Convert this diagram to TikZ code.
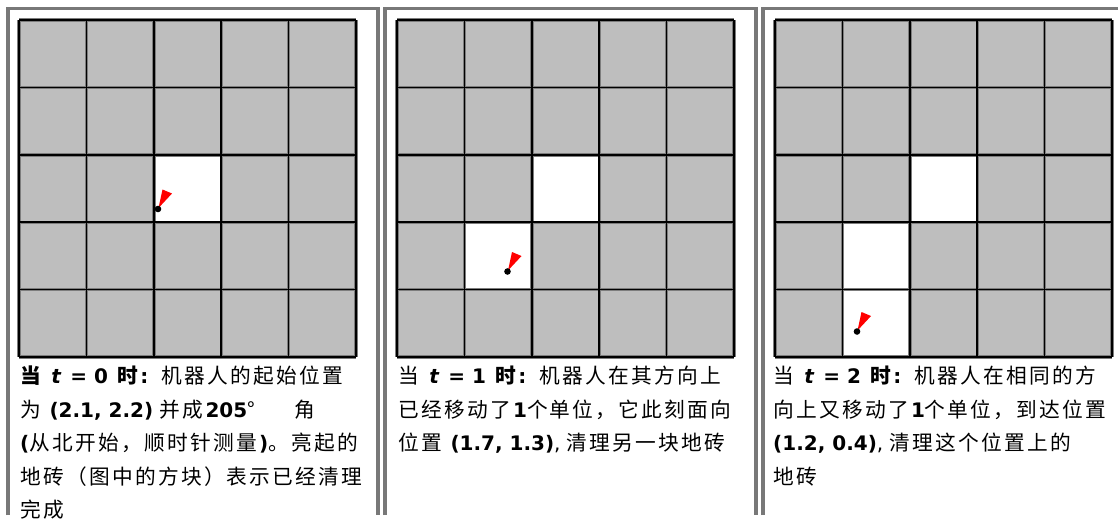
\documentclass[tikz,border=0pt]{standalone}
\usepackage{fontspec}
\setmainfont{DejaVu Sans}
\newfontfamily\cjk{Noto Sans CJK SC}[Scale=1.035,LetterSpace=11]
\newcommand{\zh}[1]{{\cjk #1}}
\newcommand{\zhb}[1]{{\cjk\bfseries #1}}
\definecolor{tile}{RGB}{190,190,190}
\definecolor{framec}{RGB}{120,120,120}
\definecolor{halo}{RGB}{125,125,125}
\definecolor{flagred}{RGB}{255,0,0}
\tikzset{
  frameline/.style={draw=framec, line width=3.4pt},
  txt/.style={anchor=base west, inner sep=0pt, font=\fontsize{20}{22}\selectfont},
  halol/.style={draw=halo, line width=3.4pt},
  gridl/.style={draw=black, line width=1.5pt},
}
\newcommand{\gridpanel}[2]{%
  \foreach \c in {0,...,4}{\foreach \r in {0,...,4}{
    \fill[tile] (#1+\c*67.4, 20+\r*67.4) rectangle ++(67.4,67.4);}}
  \foreach \c/\r in {#2}{\fill[white] (#1+\c*67.4, 20+\r*67.4) rectangle ++(67.4,67.4);}
  \foreach \i in {0,...,5}{
    \draw[halol] (#1+\i*67.4,20) -- (#1+\i*67.4,357);
    \draw[halol] (#1,20+\i*67.4) -- (#1+337,20+\i*67.4);}
  \foreach \i in {0,...,5}{
    \draw[gridl] (#1+\i*67.4,20) -- (#1+\i*67.4,357);
    \draw[gridl] (#1,20+\i*67.4) -- (#1+337,20+\i*67.4);}
}
\newcommand{\robot}[3]{%
  \coordinate (#1) at (#2,#3);
  \begin{scope}[shift={(#1)}]
    \fill[flagred] (0.5,-1) -- (4.5,-19.5) -- (14,-15.5) -- cycle;
  \end{scope}
  \fill[black] (#1) circle (3.3pt);
}
\newcommand{\head}[3]{#1\hspace{4pt} \textbf{\textit{t}\hspace{2pt} = #2}\hspace{3pt} \zhb{时}\textbf{:}\hspace{5pt} \zh{#3}}
\begin{document}
\begin{tikzpicture}[x=1pt,y=-1pt]
\clip (0,0) rectangle (1118,525);
\fill[white] (0,0) rectangle (1118,525);
% frames
\draw[frameline] (8,515) -- (8,8.5) -- (378,8.5) -- (378,515);
\draw[frameline] (385,515) -- (385,8.5) -- (756,8.5) -- (756,515);
\draw[frameline] (763,515) -- (763,8.5) -- (1120,8.5);
% grids
\gridpanel{19}{2/2}
\gridpanel{397}{2/2,1/3}
\gridpanel{775}{2/2,1/3,1/4}
% robots
\robot{r0}{158}{209}
\robot{r1}{507.5}{271.5}
\robot{r2}{857}{331.5}
% texts panel 1
\node[txt] (a1) at (20,383.5) {\head{\zhb{当}}{0}{机器人的起始位置}};
\node[txt] (a2) at (20,417) {\zh{为} \textbf{(2.1, 2.2)} \zh{并成}\textbf{205}\zh{°}\hspace{40pt}\zh{角}};
\node[txt] (a3) at (20,450.5) {\textbf{(}\zh{从北开始，顺时针测量}\textbf{)}\zh{。亮起的}};
\node[txt] (a4) at (20,484) {\zh{地砖（图中的方块）表示已经清理}};
\node[txt] (a5) at (20,517.5) {\zh{完成}};
% texts panel 2
\node[txt] (b1) at (398,383.5) {\head{\zh{当}}{1}{机器人在其方向上}};
\node[txt] (b2) at (398,417) {\zh{已经移动了}\textbf{1}\zh{个单位，它此刻面向}};
\node[txt] (b3) at (398,450.5) {\zh{位置} \textbf{(1.7, 1.3)}, \zh{清理另一块地砖}};
% texts panel 3
\node[txt] (c1) at (773,383.5) {\head{\zh{当}}{2}{机器人在相同的方}};
\node[txt] (c2) at (773,417) {\zh{向上又移动了}\textbf{1}\zh{个单位，到达位置}};
\node[txt] (c3) at (773,450.5) {\textbf{(1.2, 0.4)}, \zh{清理这个位置上的}};
\node[txt] (c4) at (773,484) {\zh{地砖}};
\end{tikzpicture}
\end{document}
